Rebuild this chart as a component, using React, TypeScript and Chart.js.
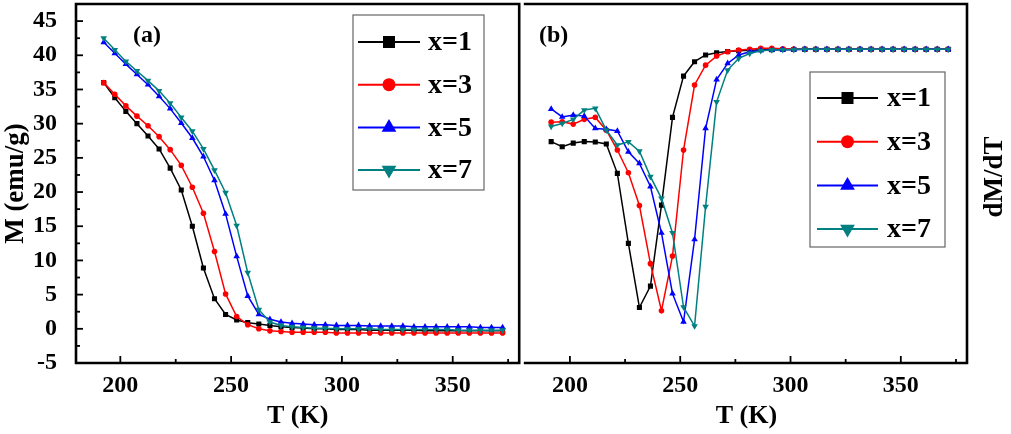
import React, { useEffect, useRef } from 'react';
import { Chart, registerables } from 'chart.js';

Chart.register(...registerables);

// ---------- DATA ----------
const seriesNames = ['x=1', 'x=3', 'x=5', 'x=7'];
const seriesColors = ['#000000', '#ff0000', '#0000ff', '#008080'];

const xTickValues = [200, 250, 300, 350];
const xMinorTickValues = [225, 275, 325, 375];
const yTickValuesM = [-5, 0, 5, 10, 15, 20, 25, 30, 35, 40, 45];
const yMinorTickValuesM = [-2.5, 2.5, 7.5, 12.5, 17.5, 22.5, 27.5, 32.5, 37.5, 42.5];

// Panel (a): M (emu/g) vs T (K)
const tempsM = [
  192.5, 197.5, 202.5, 207.5, 212.5, 217.5, 222.5, 227.5, 232.5, 237.5,
  242.5, 247.5, 252.5, 257.5, 262.5, 267.5, 272.5, 277.5, 282.5, 287.5,
  292.5, 297.5, 302.5, 307.5, 312.5, 317.5, 322.5, 327.5, 332.5, 337.5,
  342.5, 347.5, 352.5, 357.5, 362.5, 367.5, 372.5,
];
const mX1 = [
  36.0, 33.8, 31.8, 30.0, 28.2, 26.3, 23.5, 20.3, 15.0, 8.9,
  4.4, 2.1, 1.3, 0.9, 0.7, 0.5, 0.3, 0.2, 0.1, 0.0,
  0.0, -0.1, -0.1, -0.1, -0.2, -0.2, -0.2, -0.2, -0.2, -0.3,
  -0.3, -0.3, -0.3, -0.3, -0.3, -0.3, -0.3,
];
const mX3 = [
  36.0, 34.3, 32.6, 31.1, 29.7, 28.1, 26.2, 23.9, 20.7, 16.9,
  11.3, 5.1, 1.8, 0.6, 0.0, -0.3, -0.4, -0.5, -0.5, -0.5,
  -0.5, -0.6, -0.6, -0.6, -0.6, -0.6, -0.6, -0.6, -0.6, -0.6,
  -0.6, -0.6, -0.6, -0.6, -0.6, -0.6, -0.6,
];
const mX5 = [
  41.9, 40.3, 38.7, 37.2, 35.7, 34.0, 32.2, 30.1, 27.9, 25.2,
  21.7, 16.8, 10.6, 4.8, 2.1, 1.4, 1.0, 0.8, 0.7, 0.6,
  0.6, 0.5, 0.5, 0.5, 0.4, 0.4, 0.4, 0.4, 0.3, 0.3,
  0.3, 0.3, 0.3, 0.3, 0.2, 0.2, 0.2,
];
const mX7 = [
  42.5, 40.8, 39.1, 37.7, 36.3, 34.8, 33.0, 30.9, 28.9, 26.3,
  23.2, 19.9, 15.1, 8.2, 2.8, 1.0, 0.5, 0.3, 0.2, 0.1,
  0.1, 0.0, 0.0, 0.0, 0.0, -0.1, -0.1, -0.1, -0.1, -0.1,
  -0.1, -0.1, -0.2, -0.2, -0.2, -0.2, -0.2,
];

// Panel (b): dM/dT vs T (K)
const tempsD = [
  191.5, 196.5, 201.5, 206.5, 211.5, 216.5, 221.5, 226.5, 231.5, 236.5,
  241.5, 246.5, 251.5, 256.5, 261.5, 266.5, 271.5, 276.5, 281.5, 286.5,
  291.5, 296.5, 301.5, 306.5, 311.5, 316.5, 321.5, 326.5, 331.5, 336.5,
  341.5, 346.5, 351.5, 356.5, 361.5, 366.5, 371.5,
];
const dX1 = [
  -0.427, -0.451, -0.434, -0.427, -0.429, -0.438, -0.574, -0.898, -1.195, -1.096,
  -0.721, -0.315, -0.124, -0.057, -0.026, -0.016, -0.010, -0.006, -0.004, -0.002,
  -0.002, -0.001, -0.001, 0, 0, 0, 0, 0, 0, 0,
  0, 0, 0, 0, 0, 0, 0,
];
const dX3 = [
  -0.337, -0.335, -0.346, -0.324, -0.315, -0.374, -0.466, -0.571, -0.723, -0.992,
  -1.210, -0.957, -0.466, -0.165, -0.073, -0.031, -0.011, -0.003, 0.0, 0.005,
  0.005, 0.003, 0.002, 0.001, 0, 0, 0, 0, 0, 0,
  0, 0, 0, 0, 0, 0, 0,
];
const dX5 = [
  -0.276, -0.313, -0.304, -0.309, -0.366, -0.370, -0.378, -0.474, -0.528, -0.635,
  -0.850, -1.131, -1.261, -0.880, -0.366, -0.140, -0.065, -0.026, -0.011, -0.005,
  -0.003, -0.002, -0.001, 0, 0, 0, 0, 0, 0, 0,
  0, 0, 0, 0, 0, 0, 0,
];
const dX7 = [
  -0.357, -0.343, -0.324, -0.281, -0.273, -0.374, -0.443, -0.428, -0.471, -0.589,
  -0.690, -0.850, -1.193, -1.281, -0.728, -0.243, -0.096, -0.042, -0.019, -0.006,
  -0.003, -0.002, -0.001, 0, 0, 0, 0, 0, 0, 0,
  0, 0, 0, 0, 0, 0, 0,
];

// ---------- STYLE ----------
const FONT = "'Liberation Serif', 'Times New Roman', 'DejaVu Serif', serif";
const markerStyles = ['rect', 'circle', 'triangle', 'triangleDown'];
const markerRadius = [3.6, 2.8, 3.8, 3.8];
const legendRadius = [8.5, 6.5, 8.5, 8.5];

function drawMarker(ctx: CanvasRenderingContext2D, style: string, x: number, y: number, r: number, color: string) {
  ctx.fillStyle = color;
  ctx.beginPath();
  if (style === 'rect') {
    const s = r * Math.SQRT1_2;
    ctx.rect(x - s, y - s, 2 * s, 2 * s);
  } else if (style === 'circle') {
    ctx.arc(x, y, r, 0, Math.PI * 2);
  } else {
    const d = style === 'triangleDown' ? -1 : 1;
    ctx.moveTo(x, y - d * r);
    ctx.lineTo(x + 0.866 * r, y + d * 0.5 * r);
    ctx.lineTo(x - 0.866 * r, y + d * 0.5 * r);
    ctx.closePath();
  }
  ctx.fill();
}

const framePlugin = {
  id: 'frameDeco',
  afterDraw(chart: any, _args: any, opts: any) {
    const ctx: CanvasRenderingContext2D = chart.ctx;
    const a = chart.chartArea;
    const xs = chart.scales.x;
    const ys = chart.scales.y;
    ctx.save();
    ctx.strokeStyle = '#000';
    ctx.lineWidth = 1.8;
    const tickX = (vals: number[], len: number) => {
      vals.forEach((v) => {
        const px = xs.getPixelForValue(v);
        if (px < a.left || px > a.right) return;
        ctx.beginPath();
        ctx.moveTo(px, a.bottom);
        ctx.lineTo(px, a.bottom - len);
        ctx.stroke();
      });
    };
    const tickY = (vals: number[], len: number) => {
      vals.forEach((v) => {
        const py = ys.getPixelForValue(v);
        if (py < a.top || py > a.bottom) return;
        ctx.beginPath();
        ctx.moveTo(a.left, py);
        ctx.lineTo(a.left + len, py);
        ctx.stroke();
      });
    };
    tickX(xTickValues, 7);
    tickX(xMinorTickValues, 4);
    if (opts.yTicks) {
      tickY(yTickValuesM, 7);
      tickY(yMinorTickValuesM, 4);
    }
    // frame
    ctx.lineWidth = 2.6;
    ctx.beginPath();
    if (opts.skipLeft) {
      ctx.moveTo(a.left - 2, a.top);
      ctx.lineTo(a.right, a.top);
      ctx.lineTo(a.right, a.bottom);
      ctx.lineTo(a.left - 2, a.bottom);
    } else {
      ctx.rect(a.left, a.top, a.right - a.left, a.bottom - a.top);
    }
    ctx.stroke();

    // panel label
    ctx.fillStyle = '#000';
    ctx.font = `bold 24px ${FONT}`;
    ctx.textBaseline = 'middle';
    ctx.textAlign = 'left';
    ctx.fillText(opts.panelLabel, opts.panelX, opts.panelY);

    // legend
    const lg = opts.legend;
    ctx.lineWidth = 1.2;
    ctx.strokeStyle = '#666';
    ctx.strokeRect(lg.x, lg.y, lg.w, lg.h);
    seriesNames.forEach((name, i) => {
      const ry = lg.rowY0 + i * lg.rowH;
      ctx.strokeStyle = seriesColors[i];
      ctx.lineWidth = 2;
      ctx.beginPath();
      ctx.moveTo(lg.lineX0, ry);
      ctx.lineTo(lg.lineX1, ry);
      ctx.stroke();
      drawMarker(ctx, markerStyles[i], (lg.lineX0 + lg.lineX1) / 2, ry, legendRadius[i], seriesColors[i]);
      ctx.fillStyle = '#000';
      ctx.font = `bold 28px ${FONT}`;
      ctx.textAlign = 'left';
      ctx.textBaseline = 'middle';
      ctx.fillText(name, lg.textX, ry + 1);
    });

    // rotated right-side title
    if (opts.rightTitle) {
      ctx.save();
      ctx.translate(opts.rightTitle.x, opts.rightTitle.y);
      ctx.rotate(-Math.PI / 2);
      ctx.fillStyle = '#000';
      ctx.font = `bold 27px ${FONT}`;
      ctx.textAlign = 'center';
      ctx.textBaseline = 'middle';
      ctx.fillText(opts.rightTitle.text, 0, 0);
      ctx.restore();
    }
    ctx.restore();
  },
};

function buildDatasets(temps: number[], series: number[][]) {
  return series.map((vals, i) => ({
    label: seriesNames[i],
    data: temps.map((t, k) => ({ x: t, y: vals[k] })),
    borderColor: seriesColors[i],
    backgroundColor: seriesColors[i],
    borderWidth: 1.5,
    pointStyle: markerStyles[i] === 'triangleDown' ? 'triangle' : markerStyles[i],
    pointRotation: markerStyles[i] === 'triangleDown' ? 180 : 0,
    pointRadius: markerRadius[i],
    pointBorderWidth: 0,
    pointHoverRadius: markerRadius[i],
    tension: 0,
    order: 3 - i,
  }));
}

function xScale() {
  return {
    type: 'linear',
    min: 180,
    max: 380,
    afterBuildTicks: (axis: any) => {
      axis.ticks = xTickValues.map((v) => ({ value: v }));
    },
    afterFit: (scale: any) => {
      scale.height = 71;
      scale.paddingLeft = 0;
      scale.paddingRight = 0;
    },
    grid: { display: false, drawTicks: false },
    border: { display: false },
    ticks: {
      color: '#000',
      padding: 8,
      maxRotation: 0,
      font: { family: FONT, size: 24, weight: 'bold' },
    },
    title: {
      display: true,
      text: 'T (K)',
      color: '#000',
      padding: { top: 0, bottom: 2 },
      font: { family: FONT, size: 26, weight: 'bold' },
    },
  };
}

export default function App() {
  const leftRef = useRef<HTMLCanvasElement>(null);
  const rightRef = useRef<HTMLCanvasElement>(null);

  useEffect(() => {
    const left = new Chart(leftRef.current as HTMLCanvasElement, {
      type: 'line',
      data: { datasets: buildDatasets(tempsM, [mX1, mX3, mX5, mX7]) as any },
      plugins: [framePlugin as any],
      options: {
        responsive: false,
        animation: false,
        devicePixelRatio: 1,
        layout: { padding: { top: 4, right: 2, left: 0, bottom: 0 } },
        plugins: {
          legend: { display: false },
          tooltip: { enabled: false },
          frameDeco: {
            yTicks: true,
            panelLabel: '(a)',
            panelX: 133,
            panelY: 36,
            legend: { x: 353, y: 15, w: 131, h: 175, rowY0: 42, rowH: 42.7, lineX0: 358, lineX1: 420, textX: 428 },
          },
        } as any,
        scales: {
          x: xScale() as any,
          y: {
            type: 'linear',
            min: -5,
            max: 47.5,
            afterBuildTicks: (axis: any) => {
              axis.ticks = yTickValuesM.map((v) => ({ value: v }));
            },
            afterFit: (scale: any) => {
              scale.width = 76;
              scale.paddingTop = 0;
              scale.paddingBottom = 0;
            },
            grid: { display: false, drawTicks: false },
            border: { display: false },
            ticks: {
              color: '#000',
              padding: 19,
              font: { family: FONT, size: 24, weight: 'bold' },
            },
            title: {
              display: true,
              text: 'M (emu/g)',
              color: '#000',
              padding: { top: 0, bottom: 0 },
              font: { family: FONT, size: 27, weight: 'bold' },
            },
          } as any,
        },
      },
    });

    const right = new Chart(rightRef.current as HTMLCanvasElement, {
      type: 'line',
      data: { datasets: buildDatasets(tempsD, [dX1, dX3, dX5, dX7]) as any },
      plugins: [framePlugin as any],
      options: {
        responsive: false,
        animation: false,
        devicePixelRatio: 1,
        layout: { padding: { top: 4, right: 44, left: 1, bottom: 0 } },
        plugins: {
          legend: { display: false },
          tooltip: { enabled: false },
          frameDeco: {
            yTicks: false,
            skipLeft: true,
            panelLabel: '(b)',
            panelX: 17,
            panelY: 36,
            legend: { x: 288, y: 72, w: 135, h: 175, rowY0: 98, rowH: 43.7, lineX0: 295, lineX1: 356, textX: 365 },
            rightTitle: { text: 'dM/dT', x: 473, y: 177 },
          },
        } as any,
        scales: {
          x: xScale() as any,
          y: {
            type: 'linear',
            display: false,
            min: -1.452,
            max: 0.21,
          } as any,
        },
      },
    });

    return () => {
      left.destroy();
      right.destroy();
    };
  }, []);

  return (
    <div style={{ position: 'fixed', left: 0, top: 0, width: 1011, height: 434, background: '#fff', overflow: 'hidden' }}>
      <canvas ref={leftRef} width={523} height={434} style={{ position: 'absolute', left: 0, top: 0, display: 'block' }} />
      <canvas ref={rightRef} width={489} height={434} style={{ position: 'absolute', left: 522, top: 0, display: 'block' }} />
    </div>
  );
}
